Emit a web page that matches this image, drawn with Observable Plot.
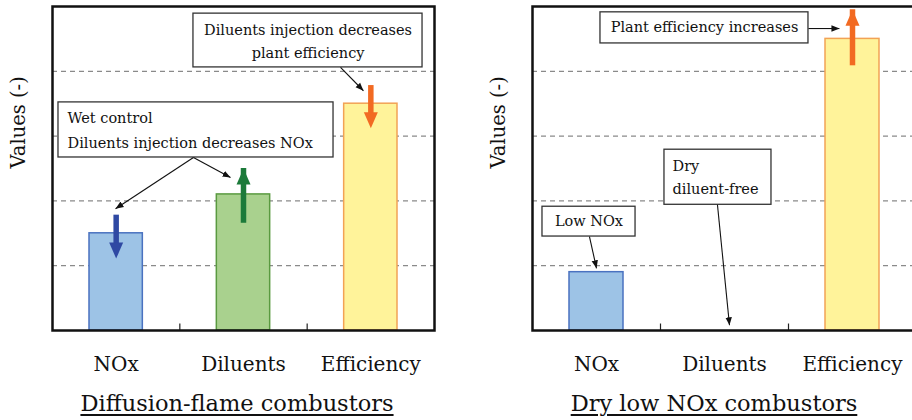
<!DOCTYPE html>
<html><head><meta charset="utf-8">
<script src="https://cdn.jsdelivr.net/npm/d3@7"></script>
<script src="https://cdn.jsdelivr.net/npm/@observablehq/plot@0.6"></script>
<style>
html,body{margin:0;padding:0;background:#fff;overflow:hidden;}
#wrap{display:flex;width:916px;}
.panel{flex:none;}
#wrap svg, #wrap svg text{font-family:"DejaVu Serif" !important;}
.title{font-family:"DejaVu Serif";font-size:22.5px;line-height:30px;margin-top:3px;text-align:center;text-decoration:underline;text-decoration-thickness:1.5px;text-underline-offset:3px;color:#111;white-space:nowrap;}
g[aria-label="underlined"] text{text-decoration:underline;}
</style></head><body><div id="wrap"></div>
<script>
const categories = ["NOx", "Diluents", "Efficiency"];
const diffusionValues = [1.5, 2.1, 3.5];
const dryLowValues = [0.9, 0, 4.5];
const gridValues = [1, 2, 3, 4];
const barFill = ["#9dc3e6", "#a9d18e", "#fff39a"];
const barStroke = ["#4a72c0", "#5a9a40", "#f2a255"];
const yLabel = "Values (-)";
const panelTitles = ["Diffusion-flame combustors", "Dry low NOx combustors"];

// thick change arrows: category index, tail value, tip value
const diffusionChangeArrows = [
  {cat: 0, from: 1.78, to: 1.11, color: "#2f49a3"},
  {cat: 1, from: 1.84, to: 2.50, color: "#1c7a3a"},
  {cat: 2, from: 3.78, to: 3.12, color: "#f26a22"}
];
const dryLowChangeArrows = [
  {cat: 2, from: 4.27, to: 4.95, color: "#f26a22"}
];

// annotation boxes, texts and pointers (data units)
const diffusionBoxes = [
  {x1: 1.107, x2: 2.906, y1: 4.06, y2: 4.89},
  {x1: 0.047, x2: 2.207, y1: 2.67, y2: 3.52}
];
const diffusionNotes = [
  {x: 2.007, y: 4.63, text: "Diluents injection decreases", anchor: "middle", underline: false},
  {x: 2.007, y: 4.27, text: "plant efficiency", anchor: "middle", underline: false},
  {x: 0.118, y: 3.27, text: "Wet control", anchor: "start", underline: true},
  {x: 0.118, y: 2.886, text: "Diluents injection decreases NOx", anchor: "start", underline: false}
];
const diffusionPointers = [
  {x1: 2.262, y1: 4.06, x2: 2.442, y2: 3.70},
  {x1: 1.107, y1: 2.67, x2: 0.495, y2: 1.88},
  {x1: 1.107, y1: 2.67, x2: 1.398, y2: 2.36}
];
const dryLowBoxes = [
  {x1: 0.531, x2: 2.156, y1: 4.43, y2: 4.91},
  {x1: 0.078, x2: 0.805, y1: 1.45, y2: 1.91},
  {x1: 1.031, x2: 1.867, y1: 1.94, y2: 2.79}
];
const dryLowNotes = [
  {x: 1.344, y: 4.68, text: "Plant efficiency increases", anchor: "middle", underline: false},
  {x: 0.441, y: 1.68, text: "Low NOx", anchor: "middle", underline: false},
  {x: 1.094, y: 2.53, text: "Dry", anchor: "start", underline: true},
  {x: 1.094, y: 2.18, text: "diluent-free", anchor: "start", underline: false}
];
const dryLowPointers = [
  {x1: 2.156, y1: 4.66, x2: 2.398, y2: 4.66},
  {x1: 0.445, y1: 1.45, x2: 0.5, y2: 0.96},
  {x1: 1.445, y1: 1.94, x2: 1.539, y2: 0.08}
];

const headSymbol = {
  draw(context) {
    context.moveTo(0, 0);
    context.lineTo(-7, 16);
    context.lineTo(7, 16);
    context.closePath();
  }
};

function pointerHead(color) {
  const m = d3.create("svg:marker")
    .attr("viewBox", "-10 -5 10 10")
    .attr("markerWidth", 8).attr("markerHeight", 8)
    .attr("markerUnits", "userSpaceOnUse")
    .attr("orient", "auto").attr("refX", 0).attr("refY", 0)
    .attr("fill", color).attr("stroke", "none");
  m.append("path").attr("d", "M-10,-4L0,0L-10,4Z");
  return m.node();
}

const FONT = "DejaVu Serif";

function noteMarks(notes) {
  const marks = [];
  for (const anchor of ["start", "middle"]) {
    for (const u of [false, true]) {
      const sub = notes.filter(d => d.anchor === anchor && !!d.underline === u);
      if (!sub.length) continue;
      marks.push(Plot.text(sub, {x: "x", y: "y", text: "text", textAnchor: anchor, fontSize: 14.5, fontFamily: FONT, fill: "#111",
        ariaLabel: u ? "underlined" : "note"}));
    }
  }
  return marks;
}

function makePanel(values, arrows, boxes, notes, pointers, width, marginLeft, marginRight) {
  const bars = categories.map((c, i) => ({i, c, v: values[i], fill: barFill[i], stroke: barStroke[i]})).filter(d => d.v > 0);
  const down = arrows.filter(d => d.to < d.from);
  const up = arrows.filter(d => d.to > d.from);
  return Plot.plot({
    width, height: 385, marginLeft, marginRight, marginTop: 6, marginBottom: 55,
    x: {domain: [0, 3]},
    y: {domain: [0, 5], axis: null},
    color: {type: "identity"},
    style: {fontFamily: FONT, color: "#111", background: "white", overflow: "hidden"},
    marks: [
      Plot.ruleY(gridValues, {stroke: "#8a8a8a", strokeDasharray: "5,4", strokeWidth: 1.2}),
      Plot.rectY(bars, {x1: d => d.i, x2: d => d.i + 1, y: "v", fill: "fill", stroke: "stroke", strokeWidth: 1.5, insetLeft: 37, insetRight: 37}),
      Plot.ruleX([1, 2], {y1: 0, y2: 0.1, stroke: "#222", strokeWidth: 1.2}),
      Plot.frame({stroke: "#111", strokeWidth: 2.5}),
      Plot.axisX({ticks: [0.5, 1.5, 2.5], tickFormat: t => categories[Math.floor(t)], tickSize: 0, tickPadding: 26, fontSize: 20, fontFamily: FONT, label: null}),
      Plot.text([yLabel], {frameAnchor: "left", rotate: -90, dx: -34, fontSize: 19.5, fontFamily: FONT, fill: "#111"}),
      Plot.ruleX(down, {x: d => d.cat + 0.5, y1: "from", y2: "to", stroke: "color", strokeWidth: 5.5, insetBottom: 12}),
      Plot.ruleX(up, {x: d => d.cat + 0.5, y1: "from", y2: "to", stroke: "color", strokeWidth: 5.5, insetTop: 12}),
      Plot.dot(down, {x: d => d.cat + 0.5, y: "to", symbol: headSymbol, rotate: 180, fill: "color", stroke: "none"}),
      Plot.dot(up, {x: d => d.cat + 0.5, y: "to", symbol: headSymbol, fill: "color", stroke: "none"}),
      Plot.rect(boxes, {x1: "x1", x2: "x2", y1: "y1", y2: "y2", fill: "white", stroke: "#333", strokeWidth: 1.3}),
      ...noteMarks(notes),
      Plot.link(pointers, {x1: "x1", y1: "y1", x2: "x2", y2: "y2", stroke: "#111", strokeWidth: 1.1, markerEnd: pointerHead})
    ]
  });
}

const wrap = document.getElementById("wrap");
function addPanel(svg, title, width, titleLeft, titleWidth) {
  const p = document.createElement("div");
  p.className = "panel";
  p.style.width = width + "px";
  p.appendChild(svg);
  const t = document.createElement("div");
  t.className = "title";
  t.style.marginLeft = titleLeft + "px";
  t.style.width = titleWidth + "px";
  t.textContent = title;
  p.appendChild(t);
  wrap.appendChild(p);
}
addPanel(makePanel(diffusionValues, diffusionChangeArrows, diffusionBoxes, diffusionNotes, diffusionPointers, 456, 52, 22), panelTitles[0], 456, 46, 382);
addPanel(makePanel(dryLowValues, dryLowChangeArrows, dryLowBoxes, dryLowNotes, dryLowPointers, 460, 76, 0), panelTitles[1], 460, 76, 364);
</script>
</body></html>
